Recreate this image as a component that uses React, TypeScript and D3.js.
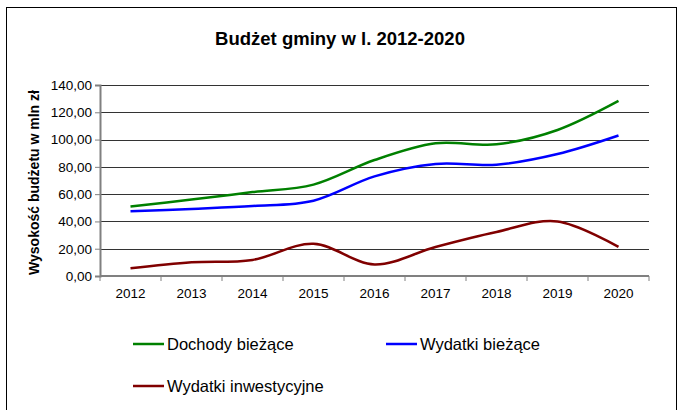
import React, { useEffect, useRef } from 'react';
import * as d3 from 'd3';

const years = ['2012', '2013', '2014', '2015', '2016', '2017', '2018', '2019', '2020'];
const dochodyBiezace = [51, 56, 61.5, 67, 85, 97.3, 96.5, 107, 128.3];
const wydatkiBiezace = [47.4, 49.2, 51.3, 55.2, 73, 82.1, 81.6, 89.4, 103];
const wydatkiInwestycyjne = [5.6, 10, 11.8, 23.6, 8.5, 21.3, 32.3, 40, 21.4];
const yTicks = [0, 20, 40, 60, 80, 100, 120, 140];

const seriesNames = ['Dochody bieżące', 'Wydatki bieżące', 'Wydatki inwestycyjne'];
const seriesColors = ['#008000', '#0000ff', '#800000'];

export default function App() {
  const ref = useRef<SVGSVGElement>(null);

  useEffect(() => {
    const svg = d3.select(ref.current);
    svg.selectAll('*').remove();

    const left = 100, right = 649, top = 85, bottom = 276;
    const font = 'Liberation Sans, Arial, sans-serif';

    // ramka wykresu
    svg.append('rect')
      .attr('x', 6.5).attr('y', 7.5).attr('width', 670).attr('height', 420)
      .attr('fill', 'white').attr('stroke', '#000').attr('stroke-width', 1);

    svg.append('text')
      .attr('x', 340).attr('y', 45)
      .attr('text-anchor', 'middle')
      .style('font-family', font).style('font-size', '18.5px').style('font-weight', 'bold')
      .text('Budżet gminy w l. 2012-2020');

    const x = d3.scaleBand().domain(years).range([left, right]).padding(0);
    const y = d3.scaleLinear().domain([0, 140]).range([bottom, top]);
    const cx = (d: string) => (x(d) as number) + x.bandwidth() / 2;

    // linie siatki
    svg.append('g').selectAll('line')
      .data(yTicks.filter(t => t > 0))
      .enter().append('line')
      .attr('x1', left).attr('x2', right)
      .attr('y1', d => Math.round(y(d)) + 0.5).attr('y2', d => Math.round(y(d)) + 0.5)
      .attr('stroke', '#333').attr('stroke-width', 1);

    const yAxis = svg.append('g')
      .attr('transform', `translate(${left},0)`)
      .call(d3.axisLeft(y).tickValues(yTicks).tickSize(5).tickPadding(3)
        .tickFormat(d => d3.format('.2f')(d as number).replace('.', ',')));
    yAxis.select('.domain').attr('stroke', '#808080').attr('stroke-width', 2);
    yAxis.selectAll('.tick line').attr('stroke', '#808080');
    yAxis.selectAll('text').style('font-family', font).style('font-size', '13.5px').attr('fill', '#000');

    // os X - kreski na granicach kategorii
    const xAxis = svg.append('g').attr('transform', `translate(0,${bottom})`);
    xAxis.append('line')
      .attr('x1', left).attr('x2', right).attr('y1', 0).attr('y2', 0)
      .attr('stroke', '#808080').attr('stroke-width', 2);
    xAxis.selectAll('line.tk')
      .data([...years.map(d => x(d) as number), right])
      .enter().append('line')
      .attr('class', 'tk')
      .attr('x1', d => d).attr('x2', d => d).attr('y1', 0).attr('y2', 5)
      .attr('stroke', '#808080');
    xAxis.selectAll('text')
      .data(years)
      .enter().append('text')
      .attr('x', d => cx(d)).attr('y', 22)
      .attr('text-anchor', 'middle')
      .style('font-family', font).style('font-size', '13.5px')
      .text(d => d);

    svg.append('text')
      .attr('transform', `translate(39,${(top + bottom) / 2 + 2}) rotate(-90)`)
      .attr('text-anchor', 'middle')
      .style('font-family', font).style('font-size', '14px').style('font-weight', 'bold')
      .text('Wysokość budżetu w mln zł');

    const line = d3.line<number>()
      .x((_, i) => cx(years[i]))
      .y(d => y(d))
      .curve(d3.curveCardinal.tension(0));

    [dochodyBiezace, wydatkiBiezace, wydatkiInwestycyjne].forEach((s, i) => {
      svg.append('path')
        .datum(s)
        .attr('d', line)
        .attr('fill', 'none')
        .attr('stroke', seriesColors[i])
        .attr('stroke-width', 2.5);
    });

    // legenda
    const legendPos = [[133, 344], [386, 344], [133, 386]];
    seriesNames.forEach((name, i) => {
      const [lx, ly] = legendPos[i];
      svg.append('line')
        .attr('x1', lx).attr('x2', lx + 31).attr('y1', ly).attr('y2', ly)
        .attr('stroke', seriesColors[i]).attr('stroke-width', 2.5);
      svg.append('text')
        .attr('x', lx + 34).attr('y', ly + 6)
        .style('font-family', font).style('font-size', '16.5px')
        .text(name);
    });
  }, []);

  return (
    <svg ref={ref} width={680} height={410}
      style={{ position: 'absolute', left: 0, top: 0, background: 'white' }} />
  );
}
